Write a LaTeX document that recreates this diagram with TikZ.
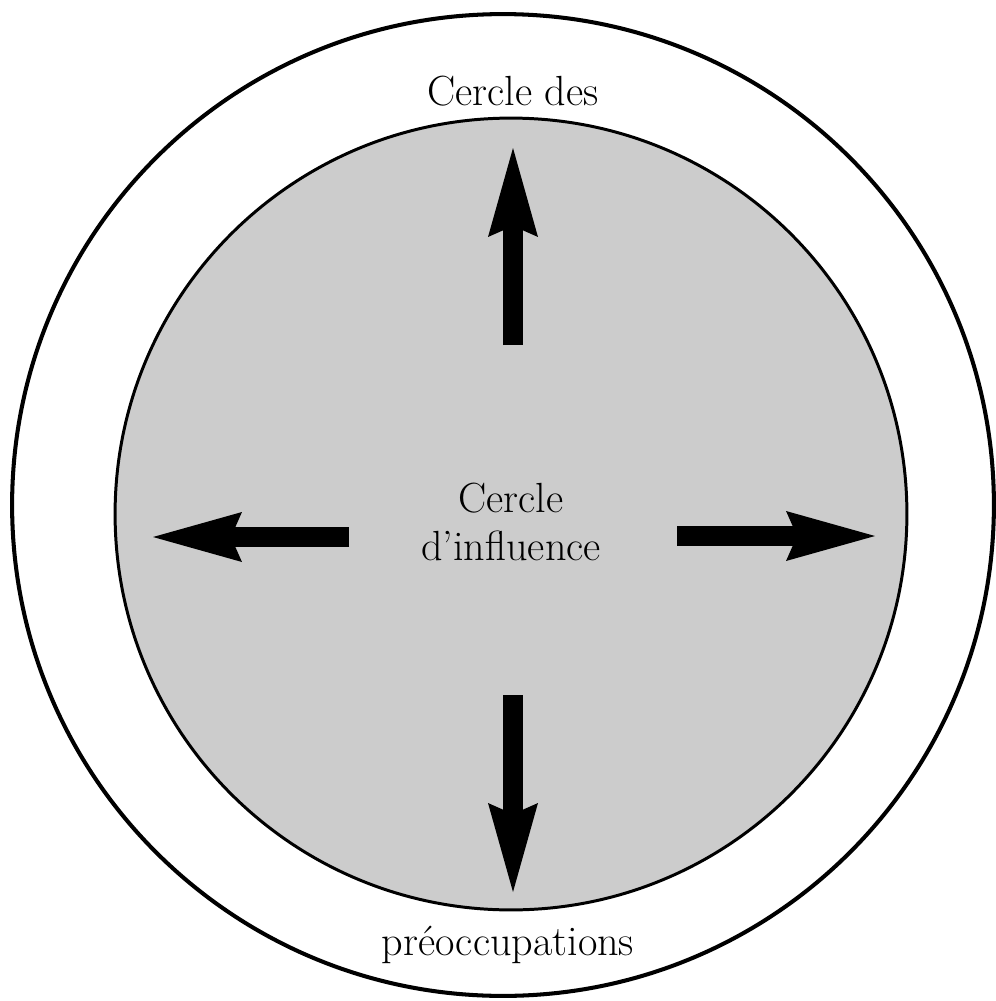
\documentclass[tikz,border=0pt]{standalone}
\usepackage{fontspec}
\usetikzlibrary{arrows.meta}
\tikzset{
  ring/.style={draw=black, line width=2.3pt},
  zone/.style={draw=black, line width=1.7pt, fill=black!20},
  label/.style={font=\fontsize{24}{29}\selectfont, inner sep=0pt},
  blockarrow/.style={line width=0.4cm, line cap=butt,
    -{Stealth[length=1.78cm, width=1cm, inset=0.22cm, line width=0pt]}}
}
\begin{document}
\begin{tikzpicture}[x=0.02cm, y=-0.02cm]
  \useasboundingbox (0,0) rectangle (995,1001);

  % outer circle and the shaded inner circle
  \node[ring, circle, minimum size=19.64cm, inner sep=0pt] (outer) at (503,505) {};
  \node[zone, circle, minimum size=15.84cm, inner sep=0pt] (inner) at (511,514) {};

  % labels
  \node[label, anchor=base] (top) at (513,105) {Cercle des};
  \node[label, anchor=base] (bottom) at (508,955) {préoccupations};
  \node[label, align=center] (centre) at (511,522) {Cercle\\[-2pt]d’influence};

  % arrow end points
  \coordinate (upS) at (513,345);   \coordinate (upE) at (513,148);
  \coordinate (dnS) at (513,695);   \coordinate (dnE) at (513,892);
  \coordinate (lfS) at (349,537);   \coordinate (lfE) at (153,537);
  \coordinate (rtS) at (677,536);   \coordinate (rtE) at (875,536);

  \draw[blockarrow] (upS) -- (upE);
  \draw[blockarrow] (dnS) -- (dnE);
  \draw[blockarrow] (lfS) -- (lfE);
  \draw[blockarrow] (rtS) -- (rtE);
\end{tikzpicture}
\end{document}
